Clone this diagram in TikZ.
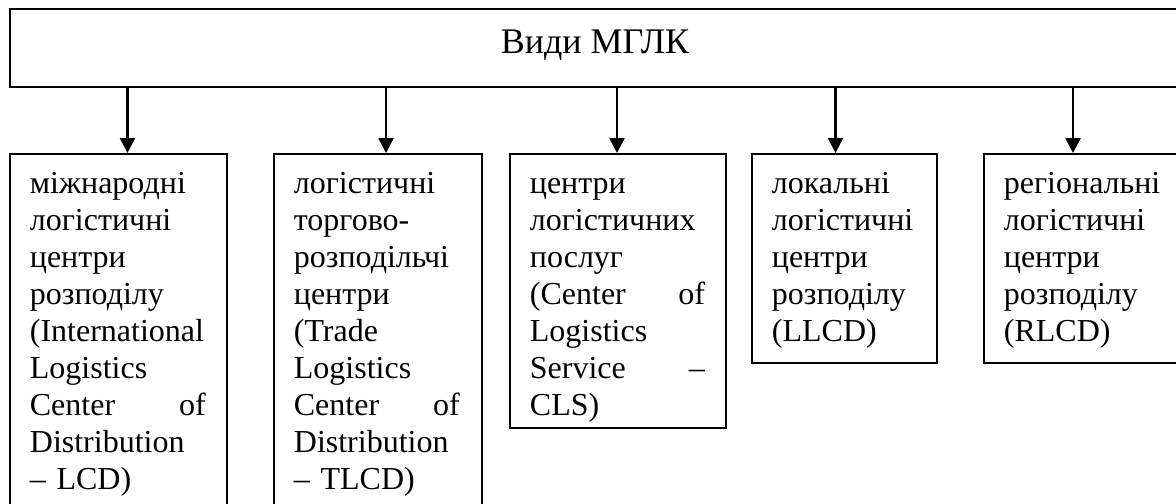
\documentclass[tikz,border=0pt]{standalone}
\usepackage{fontspec}
\setmainfont{Liberation Serif}
\usetikzlibrary{arrows.meta}

\tikzset{
  box/.style={draw, line width=0.9pt, inner sep=0pt, anchor=north west},
  txt/.style={anchor=base west, inner sep=0pt, align=left,
    font=\fontsize{16pt}{18.5pt}\selectfont},
  arr/.style={line width=1.3pt, -{Triangle[width=7.5pt,length=7.5pt]}},
}

\begin{document}
\begin{tikzpicture}[x=0.5pt, y=-0.5pt]
  \useasboundingbox (0,0) rectangle (1176,503);
  \clip (0,0) rectangle (1176,503);

  % top box
  \node[box, minimum width=586pt, minimum height=39pt] (top) at (9,8) {};
  \node[anchor=base, inner sep=0pt, font=\fontsize{18pt}{21pt}\selectfont] (title) at (595,53) {Види МГЛК};

  % lower boxes
  \node[box, minimum width=108.5pt, minimum height=180pt] (b1) at (9,153) {};
  \node[box, minimum width=104pt, minimum height=180pt] (b2) at (273,153) {};
  \node[box, minimum width=108pt, minimum height=137pt] (b3) at (509,153) {};
  \node[box, minimum width=92.5pt, minimum height=104.5pt] (b4) at (751,153) {};
  \node[box, minimum width=108.5pt, minimum height=104.5pt] (b5) at (983,153) {};

  \node[txt, text width=88pt] (t1) at ([shift={(20.5,40)}]b1.north west)
    {міжнародні\\логістичні\\центри\\розподілу\\(International\\Logistics\\Center\hfill of\\Distribution\\– LCD)};
  \node[txt, text width=83pt] (t2) at ([shift={(20.5,40)}]b2.north west)
    {логістичні\\торгово-\\розподільчі\\центри\\(Trade\\Logistics\\Center\hfill of\\Distribution\\– TLCD)};
  \node[txt, text width=87.5pt] (t3) at ([shift={(20.5,40)}]b3.north west)
    {центри\\логістичних\\послуг\\(Center\hfill of\\Logistics\\Service\hfill –\\CLS)};
  \node[txt, text width=71.5pt] (t4) at ([shift={(20.5,40)}]b4.north west)
    {локальні\\логістичні\\центри\\розподілу\\(LLCD)};
  \node[txt, text width=87.5pt] (t5) at ([shift={(20.5,40)}]b5.north west)
    {регіональні\\логістичні\\центри\\розподілу\\(RLCD)};

  % arrows
  \foreach \b/\ax in {b1/127.5, b2/386, b3/617, b4/835.5, b5/1073}
    \draw[arr] (top.south -| \ax,0) -- (\b.north -| \ax,0);
\end{tikzpicture}
\end{document}
